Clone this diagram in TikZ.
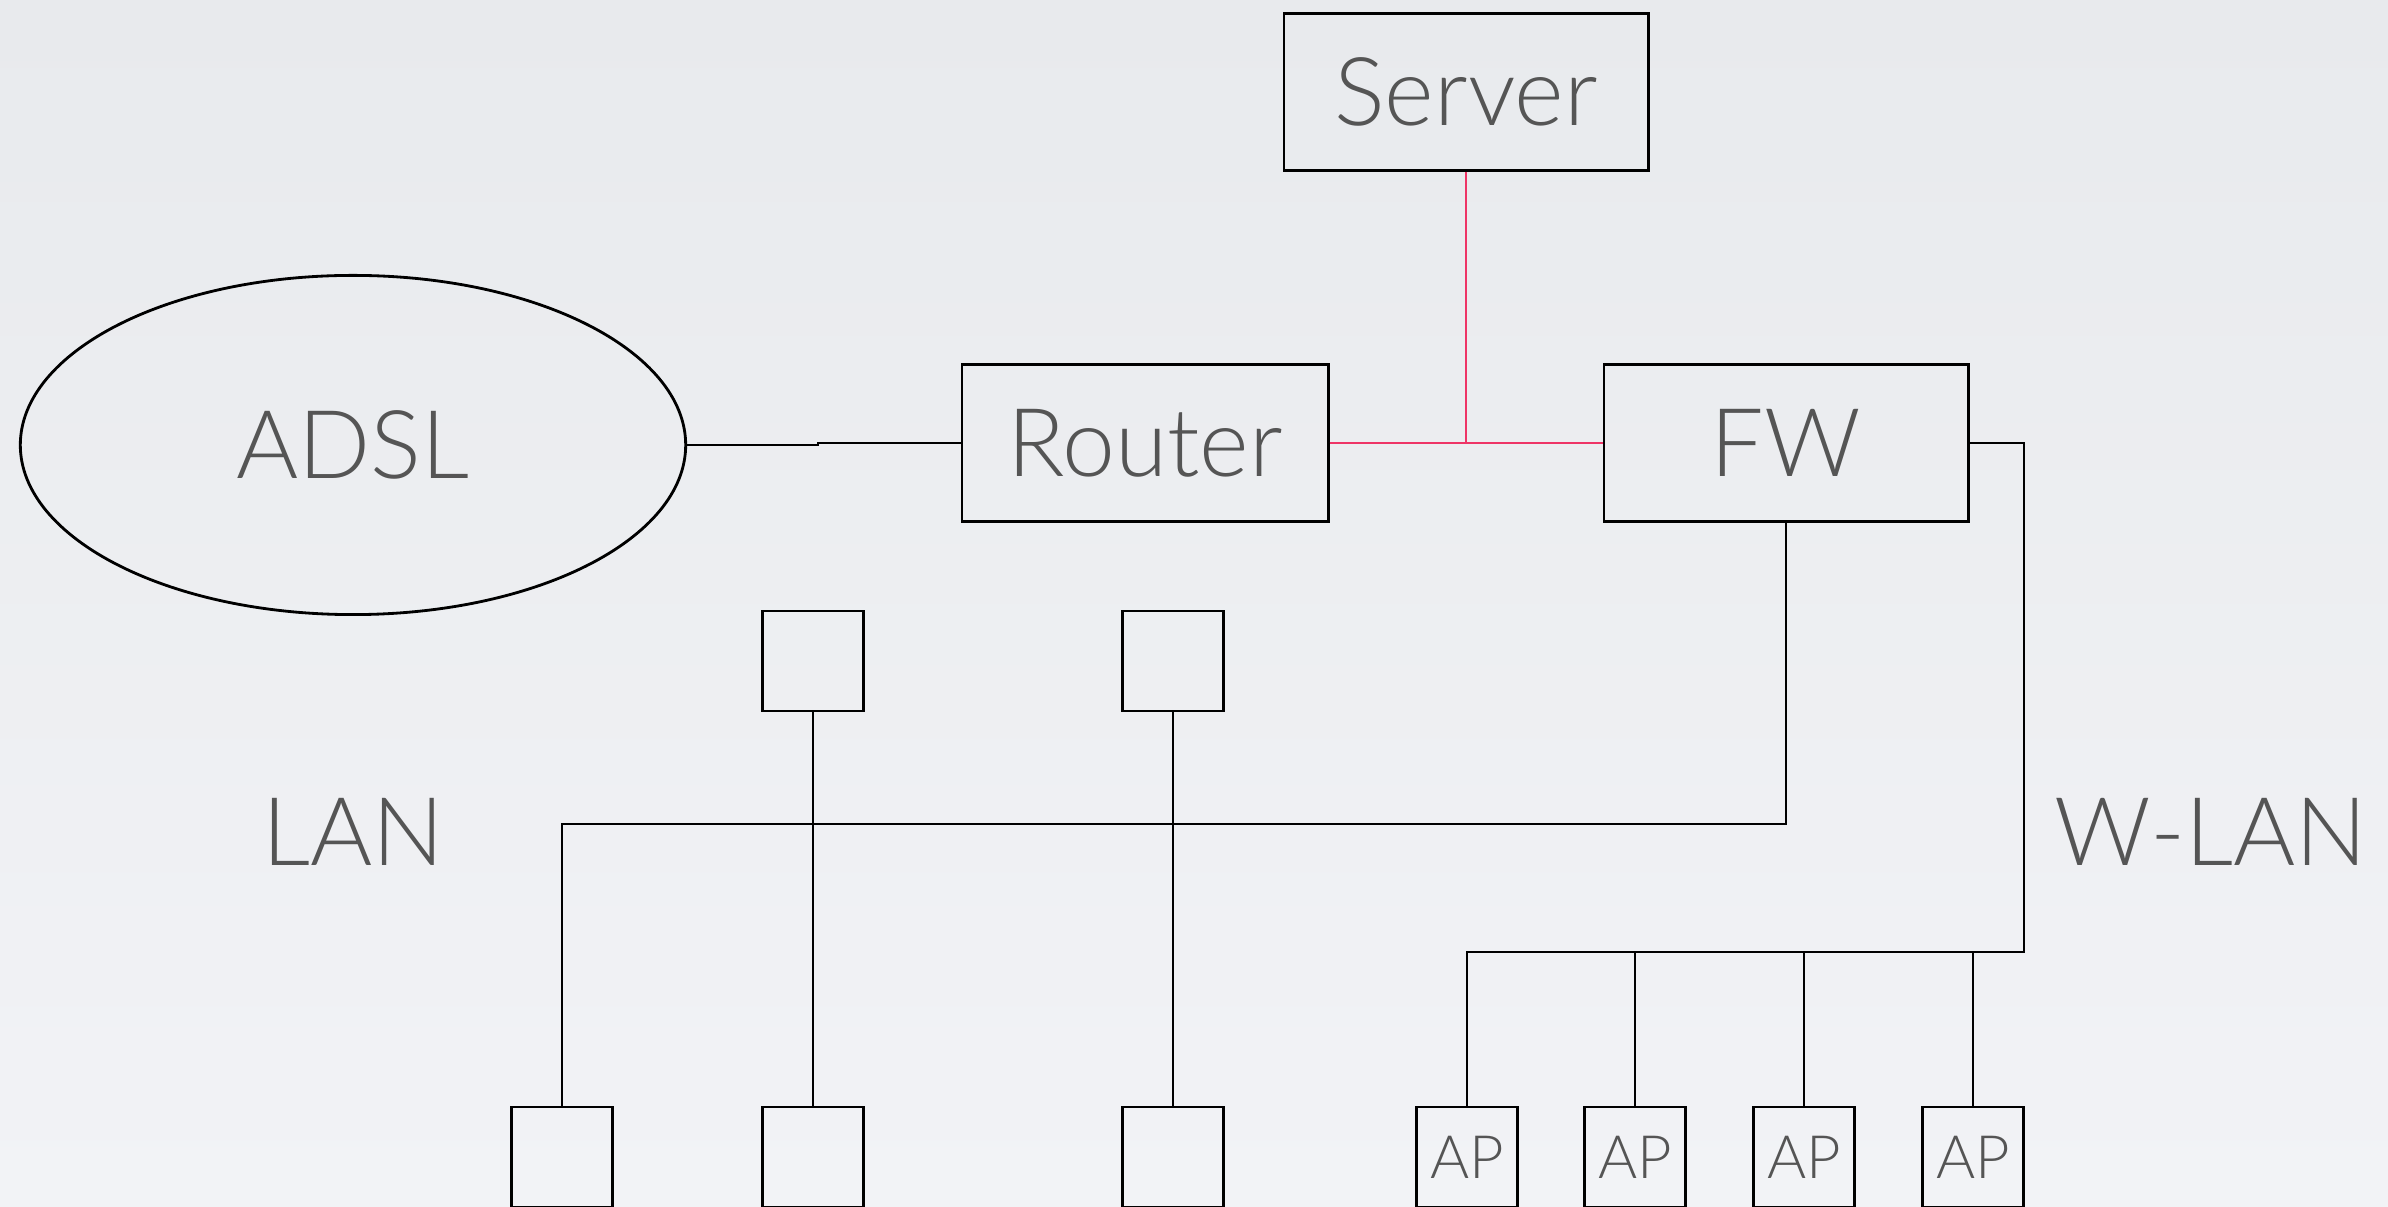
\documentclass[tikz,border=0pt]{standalone}
\usepackage{fontspec}
\setmainfont{Lato Light}
\usetikzlibrary{shapes.geometric}
\definecolor{inkgrey}{RGB}{85,85,85}
\definecolor{linkred}{RGB}{238,52,102}
\definecolor{bgtop}{RGB}{232,234,237}
\definecolor{bgbot}{RGB}{242,243,246}
\tikzset{
  wire/.style={draw=black, line width=0.7pt},
  hotwire/.style={draw=linkred, line width=0.7pt},
  bigbox/.style={draw=black, line width=0.8pt, inner sep=0pt,
    minimum width=3.64cm, minimum height=1.57cm,
    text=inkgrey, font=\fontsize{27}{30}\selectfont},
  hostbox/.style={draw=black, line width=0.8pt, inner sep=0pt,
    minimum width=1.01cm, minimum height=1.0cm},
  apbox/.style={hostbox, text=inkgrey, font=\fontsize{17}{19}\selectfont},
  cloud/.style={ellipse, draw=black, line width=0.8pt, inner sep=0pt,
    minimum width=6.65cm, minimum height=3.39cm,
    text=inkgrey, font=\fontsize{27}{30}\selectfont},
  zone/.style={text=inkgrey, font=\fontsize{27}{30}\selectfont}
}
\begin{document}
\begin{tikzpicture}[x=0.01cm, y=-0.01cm]
  % canvas
  \shade[top color=bgtop, bottom color=bgbot] (0,0) rectangle (2388,1207);
  \useasboundingbox (0,0) rectangle (2388,1207);

  % core devices
  \node[cloud] (adsl) at (353,445) {ADSL};
  \node[bigbox] (server) at (1466,92) {Server};
  \node[bigbox, minimum width=3.66cm] (router) at (1145,443) {Router};
  \node[bigbox] (fw) at (1786,443) {FW};

  % LAN hosts
  \node[hostbox] (t1) at (813,661) {};
  \node[hostbox] (t2) at (1173,661) {};
  \node[hostbox] (b1) at (562,1157) {};
  \node[hostbox] (b2) at (813,1157) {};
  \node[hostbox] (b3) at (1173,1157) {};

  % access points
  \node[apbox] (ap1) at (1467,1157) {AP};
  \node[apbox] (ap2) at (1635,1157) {AP};
  \node[apbox] (ap3) at (1804,1157) {AP};
  \node[apbox] (ap4) at (1973,1157) {AP};

  % zone labels
  \node[zone] (lan) at (353,832) {LAN};
  \node[zone] (wlan) at (2211,832) {W-LAN};

  % bus corners
  \coordinate (lanbus) at (1786,824);
  \coordinate (wcorner) at (2024,952);

  % uplink
  \draw[wire] (adsl.east) -- ++(131,0) |- (router.west);

  % DMZ segment
  \draw[hotwire] (router.east) -- (fw.west);
  \draw[hotwire] (server.south) -- (server.south |- router.east);

  % wired LAN
  \draw[wire] (fw.south) -- (lanbus) -- (b1.north |- lanbus) -- (b1.north);
  \draw[wire] (t1.south) -- (b2.north);
  \draw[wire] (t2.south) -- (b3.north);

  % wireless LAN
  \draw[wire] (fw.east) -| (wcorner) -- (ap1.north |- wcorner) -- (ap1.north);
  \draw[wire] (ap2.north) -- (ap2.north |- wcorner);
  \draw[wire] (ap3.north) -- (ap3.north |- wcorner);
  \draw[wire] (ap4.north) -- (ap4.north |- wcorner);
\end{tikzpicture}
\end{document}
